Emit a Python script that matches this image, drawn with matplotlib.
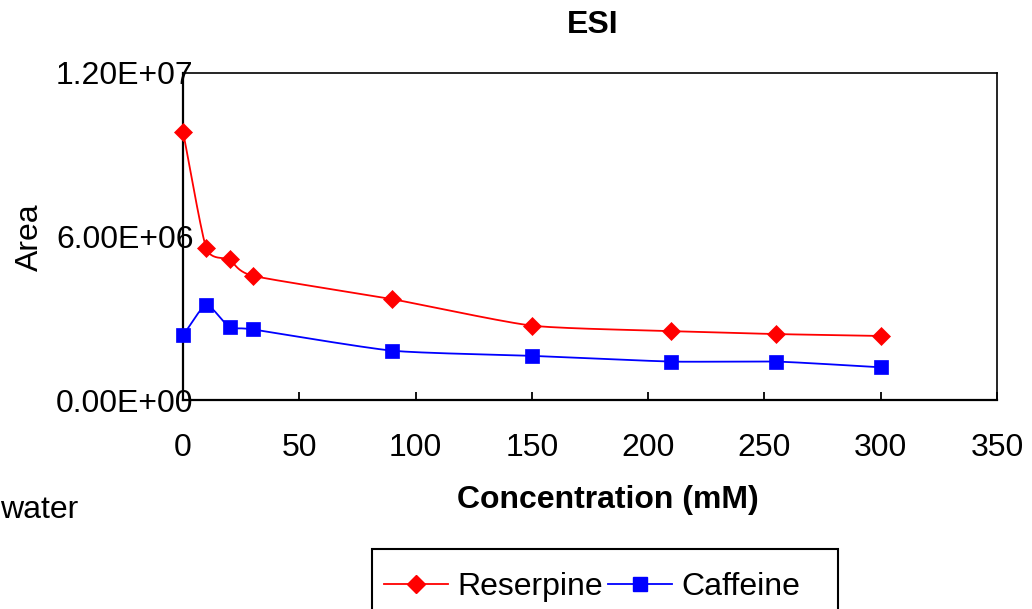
import numpy as np
import matplotlib
matplotlib.use('Agg')
import matplotlib.pyplot as plt
from matplotlib.patches import Rectangle

plt.rcParams['font.family'] = ['Liberation Sans', 'DejaVu Sans']

# ESI peak areas vs concentration
concentration = [0, 10, 20, 30, 90, 150, 210, 255, 300]
reserpine = [9.85e6, 5.57e6, 5.16e6, 4.56e6, 3.70e6, 2.73e6, 2.53e6, 2.42e6, 2.35e6]
caffeine = [2.37e6, 3.49e6, 2.67e6, 2.59e6, 1.81e6, 1.62e6, 1.41e6, 1.41e6, 1.20e6]
x_ticks = [0, 50, 100, 150, 200, 250, 300, 350]
y_ticks = [0, 6e6, 1.2e7]
y_tick_labels = ['0.00E+00', '6.00E+06', '1.20E+07']

XMAX, YMAX = 350, 1.2e7
FS = 23


def smooth(x, y, sx, sy, tension=0.3, n=24):
    # cubic Hermite through the points with softened Catmull-Rom tangents,
    # worked out in screen-like units so both axes count equally
    P = np.column_stack([np.asarray(x, float) * sx, np.asarray(y, float) * sy])
    T = np.zeros_like(P)
    T[1:-1] = (P[2:] - P[:-2]) * tension
    T[0] = (P[1] - P[0]) * tension * 2
    T[-1] = (P[-1] - P[-2]) * tension * 2
    t = np.linspace(0, 1, n, endpoint=False)[:, None]
    h00 = 2 * t ** 3 - 3 * t ** 2 + 1
    h10 = t ** 3 - 2 * t ** 2 + t
    h01 = -2 * t ** 3 + 3 * t ** 2
    h11 = t ** 3 - t ** 2
    out = [h00 * P[i] + h10 * T[i] + h01 * P[i + 1] + h11 * T[i + 1]
           for i in range(len(P) - 1)]
    out.append(P[-1][None, :])
    out = np.vstack(out)
    return out[:, 0] / sx, out[:, 1] / sy


fig = plt.figure(figsize=(10.32, 6.09), dpi=100)
ax = fig.add_axes([183 / 1032, 1 - 400 / 609, 814 / 1032, 327 / 609])

sx, sy = 814 / XMAX, 327 / YMAX
rx, ry = smooth(concentration, reserpine, sx, sy)
cx, cy = smooth(concentration, caffeine, sx, sy)

ax.plot(rx, ry, color='#ff0000', lw=1.3, clip_on=False, zorder=3)
ax.plot(cx, cy, color='#0000ff', lw=1.3, clip_on=False, zorder=3)
ax.plot(concentration, reserpine, ls='none', marker='D', ms=9.5,
        color='#ff0000', mec='#ff0000', mew=0.5, clip_on=False, zorder=4)
ax.plot(concentration, caffeine, ls='none', marker='s', ms=10,
        color='#0000ff', mec='#0000ff', mew=0.5, clip_on=False, zorder=4)

ax.set_xlim(0, XMAX)
ax.set_ylim(0, YMAX)
ax.set_xticks(x_ticks)
ax.set_yticks(y_ticks)
ax.set_yticklabels(y_tick_labels)
ax.tick_params(axis='x', direction='in', length=6, width=1.3, labelsize=FS, pad=24)
ax.tick_params(axis='y', length=0, labelsize=FS, pad=-7.5)
for lab in ax.get_yticklabels():
    lab.set_zorder(5)
for side in ['left', 'bottom']:
    ax.spines[side].set_linewidth(1.6)
for side in ['top', 'right']:
    ax.spines[side].set_linewidth(1.2)

fig.text(593 / 1032, 1 - 25 / 609, 'ESI', ha='center', va='center',
         fontsize=FS, fontweight='bold')
fig.text(608 / 1032, 1 - 500 / 609, 'Concentration (mM)', ha='center', va='center',
         fontsize=FS, fontweight='bold')
fig.text(30 / 1032, 1 - 237 / 609, 'Area', ha='center', va='center',
         fontsize=FS, rotation=90)
fig.text(0, 1 - 510 / 609, 'water', ha='left', va='center', fontsize=FS)

# legend box runs off the bottom edge
fig.patches.append(Rectangle((372 / 1032, -0.2), 466 / 1032, 0.2 + 60 / 609,
                             transform=fig.transFigure, fill=False,
                             edgecolor='black', lw=1.5))
h1, = ax.plot([], [], color='#ff0000', lw=1.3, marker='D', ms=9.5)
h2, = ax.plot([], [], color='#0000ff', lw=1.3, marker='s', ms=10)
fig.legend([h1, h2], ['Reserpine', 'Caffeine'], loc='center left',
           bbox_to_anchor=(384 / 1032, 1 - 587 / 609), ncol=2, frameon=False,
           fontsize=FS, borderpad=0, borderaxespad=0, handlelength=2.0,
           handletextpad=0.3, columnspacing=0.15)

fig.savefig('out.png', dpi=100)
plt.close(fig)
